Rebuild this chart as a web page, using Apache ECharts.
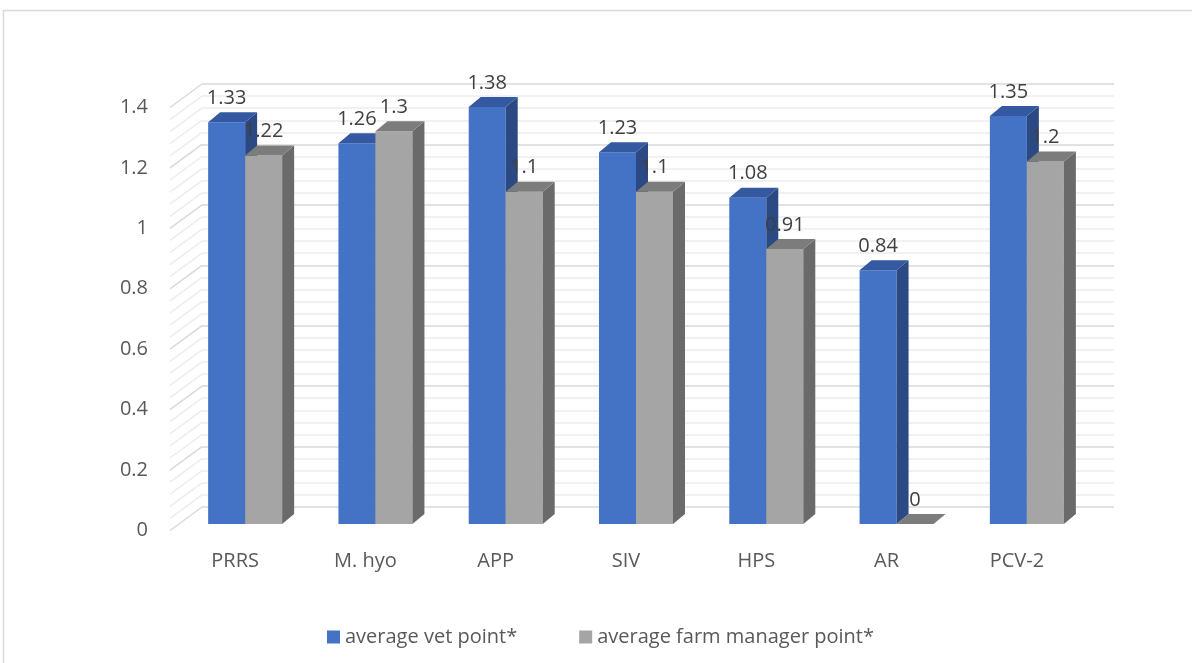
<!DOCTYPE html>
<html>
<head>
<meta charset="utf-8">
<script src="https://cdn.jsdelivr.net/npm/echarts@6/dist/echarts.min.js"></script>
<style>
  html, body { margin: 0; padding: 0; background: #fff; }
  #chart { width: 1192px; height: 663px; }
</style>
</head>
<body>
<div id="chart"></div>
<script>
const categories = ["PRRS", "M. hyo", "APP", "SIV", "HPS", "AR", "PCV-2"];
const vetPoints = [1.33, 1.26, 1.38, 1.23, 1.08, 0.84, 1.35];
const farmPoints = [1.22, 1.3, 1.1, 1.1, 0.91, 0, 1.2];
const yTicks = [0, 0.2, 0.4, 0.6, 0.8, 1, 1.2, 1.4];
const seriesNames = ["average vet point*", "average farm manager point*"];

const FONT = "'Open Sans', sans-serif";
const FS = 20;
// 3d look: front plane offset from the back wall, and bar depth
const DX = -22, DY = 17;
const DEP_X = 12, DEP_Y = -10;
const WALL_X = -32, WALL_Y = 23.5;

const colors = [
  { front: "#4472C4", top: "#3459A0", side: "#2B4A84" },
  { front: "#A5A5A5", top: "#7C7C7C", side: "#6A6A6A" },
];

// gridlines on the left wall (major + minor)
const wallLines = [];
yTicks.forEach((t, i) => {
  wallLines.push([0, t, 1]);
  if (i < yTicks.length - 1) {
    for (let k = 1; k < 5; k++) wallLines.push([0, t + (yTicks[i + 1] - t) * k / 5, 0]);
  }
});

function barRender(si) {
  return function (params, api) {
    const idx = api.value(0), v = api.value(1);
    const top = api.coord([idx, v]);
    const base = api.coord([idx, 0]);
    const band = api.size([1, 0])[0];
    const fw = band * 0.284;
    const cx = top[0] + DX;
    const x0 = si === 0 ? cx - fw : cx;
    const x1 = x0 + fw;
    const yT = top[1] + DY, yB = base[1] + DY;
    const c = colors[si];
    const children = [];
    if (yB - yT > 0.5) {
      children.push({ type: "rect", shape: { x: x0, y: yT, width: fw, height: yB - yT }, style: { fill: c.front } });
      children.push({
        type: "polygon",
        shape: { points: [[x1, yT], [x1 + DEP_X, yT + DEP_Y], [x1 + DEP_X, yB + DEP_Y], [x1, yB]] },
        style: { fill: c.side },
      });
    }
    children.push({
      type: "polygon",
      shape: { points: [[x0, yT], [x0 + DEP_X, yT + DEP_Y], [x1 + DEP_X, yT + DEP_Y], [x1, yT]] },
      style: { fill: c.top },
    });
    children.push({
      type: "text",
      style: {
        text: String(v), x: (x0 + x1) / 2, y: yT - 24,
        align: "center", verticalAlign: "middle",
        fill: "#404040", font: FS + "px " + FONT,
      },
    });
    return { type: "group", children: children };
  };
}

const chart = echarts.init(document.getElementById("chart"));
chart.setOption({
  backgroundColor: "#fff",
  animation: false,
  graphic: [{
    type: "rect", silent: true,
    shape: { x: 3.5, y: 10.5, width: 1300, height: 800 },
    style: { fill: "none", stroke: "#D9D9D9", lineWidth: 1.5 },
  }],
  grid: [
    { left: 202, right: 78, top: 84, bottom: 156 },
    { left: 170, right: 110, top: 107.5, bottom: 132.5 },
  ],
  legend: {
    data: seriesNames,
    left: 327, top: 627, padding: 0,
    icon: "rect", itemWidth: 13, itemHeight: 13, itemGap: 62,
    textStyle: { fontFamily: FONT, fontSize: FS, color: "#595959" },
  },
  xAxis: [
    { type: "category", gridIndex: 0, data: categories, show: false },
    {
      type: "category", gridIndex: 1, data: categories,
      axisLine: { show: false }, axisTick: { show: false },
      axisLabel: { margin: 21, fontFamily: FONT, fontSize: FS, color: "#595959" },
    },
  ],
  yAxis: [
    {
      type: "value", gridIndex: 0, min: 0, max: 1.4, interval: 0.2,
      axisLabel: { show: false }, axisLine: { show: false }, axisTick: { show: false },
      splitLine: { lineStyle: { color: "#D9D9D9", width: 1.5 } },
      minorTick: { show: false, splitNumber: 5 },
      minorSplitLine: { show: true, lineStyle: { color: "#EDEDED", width: 1.5 } },
    },
    {
      type: "value", gridIndex: 1, min: 0, max: 1.4, interval: 0.2,
      axisLine: { show: false }, axisTick: { show: false }, splitLine: { show: false },
      axisLabel: { margin: 22, fontFamily: FONT, fontSize: FS, color: "#595959" },
    },
  ],
  series: [
    {
      type: "custom", name: "wall", silent: true, xAxisIndex: 0, yAxisIndex: 0,
      data: wallLines, encode: { x: 0, y: 1 },
      renderItem: function (params, api) {
        const p = api.coord([0, api.value(1)]);
        const x0 = params.coordSys.x;
        return {
          type: "line",
          shape: { x1: x0, y1: p[1], x2: x0 + WALL_X, y2: p[1] + WALL_Y },
          style: { stroke: api.value(2) ? "#D9D9D9" : "#EDEDED", lineWidth: 1.5 },
        };
      },
    },
    {
      type: "custom", name: seriesNames[0], xAxisIndex: 0, yAxisIndex: 0,
      itemStyle: { color: colors[0].front },
      data: vetPoints.map((v, i) => [i, v]), encode: { x: 0, y: 1 },
      renderItem: barRender(0),
    },
    {
      type: "custom", name: seriesNames[1], xAxisIndex: 0, yAxisIndex: 0,
      itemStyle: { color: colors[1].front },
      data: farmPoints.map((v, i) => [i, v]), encode: { x: 0, y: 1 },
      renderItem: barRender(1),
    },
  ],
});
</script>
</body>
</html>
